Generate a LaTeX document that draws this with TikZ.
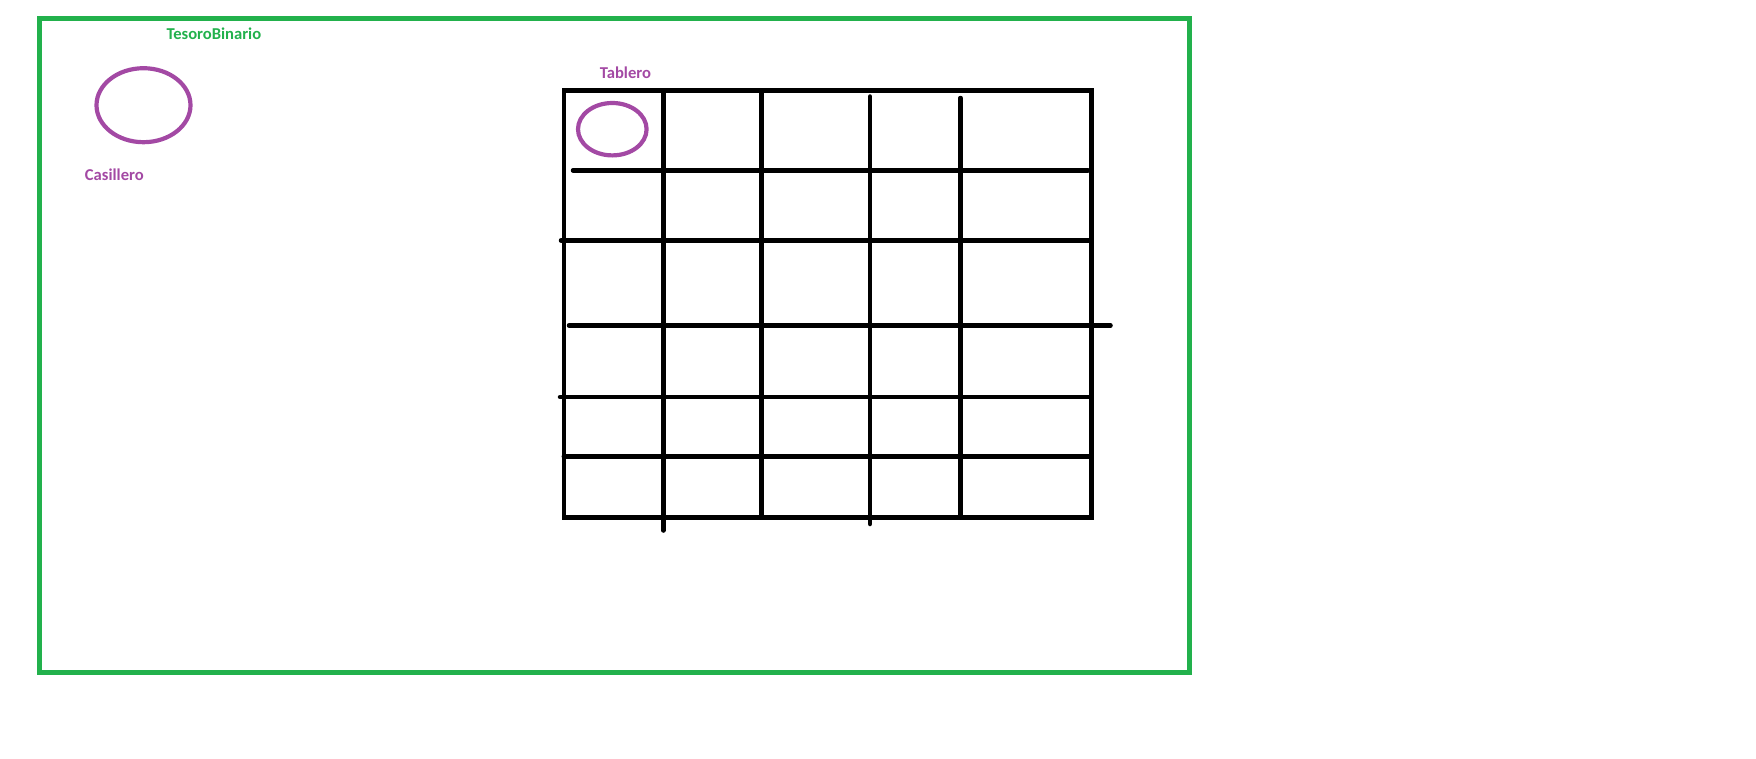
\documentclass[tikz,border=0pt]{standalone}
\usepackage{fontspec}
\setmainfont{Carlito}
\usetikzlibrary{shapes.geometric}
\definecolor{paintgreen}{HTML}{22B14C}
\definecolor{paintpurple}{HTML}{A349A4}
\tikzset{
  frame/.style={draw=paintgreen, line width=4.7pt, line join=miter},
  gridline/.style={draw=black, line width=4.5pt, line cap=round},
  gridbox/.style={draw=black, line width=4.5pt, line join=miter},
  ring/.style={draw=paintpurple, line width=4.2pt, ellipse, inner sep=0pt},
  lbl/.style={inner sep=0pt, font=\fontsize{16.6}{19}\selectfont\bfseries}
}
\begin{document}
\begin{tikzpicture}[x=1pt,y=-1pt]
\useasboundingbox (0,0) rectangle (1756,758);
% outer frame
\draw[frame] (39.3,18.3) rectangle (1189.3,672.3);
\node[lbl, text=paintgreen, anchor=base west] (tesoro) at (166.3,39.5) {TesoroBinario};
% Casillero
\node[ring, minimum width=94pt, minimum height=74pt] (casillero) at (143.5,105.2) {};
\node[lbl, text=paintpurple, anchor=base west] (casilleroLbl) at (84.7,180.3) {Casillero};
% Tablero
\node[lbl, text=paintpurple, anchor=base west] (tableroLbl) at (599.7,78.6) {Tablero};
\draw[gridbox] (563.8,90.5) rectangle (1091.3,517.3);
% vertical lines
\draw[gridline] (663.3,90.5) -- (663.3,530.5);
\draw[gridline] (761.3,90.5) -- (761.3,517.3);
\draw[gridline] (870,96.5) -- (870,524);
\draw[gridline] (960.5,98) -- (960.5,517.3);
% horizontal lines
\draw[gridline] (573,170.4) -- (1088,170.4);
\draw[gridline] (561,240.5) -- (1091.3,240.5);
\draw[gridline] (569,325.5) -- (1110.5,325.5);
\draw[gridline] (560,397) -- (1091.3,397);
\draw[gridline] (563.8,456.3) -- (1091.3,456.3);
% small casillero inside tablero
\node[ring, minimum width=68.6pt, minimum height=52.4pt] (celda) at (612.3,129.2) {};
\end{tikzpicture}
\end{document}
